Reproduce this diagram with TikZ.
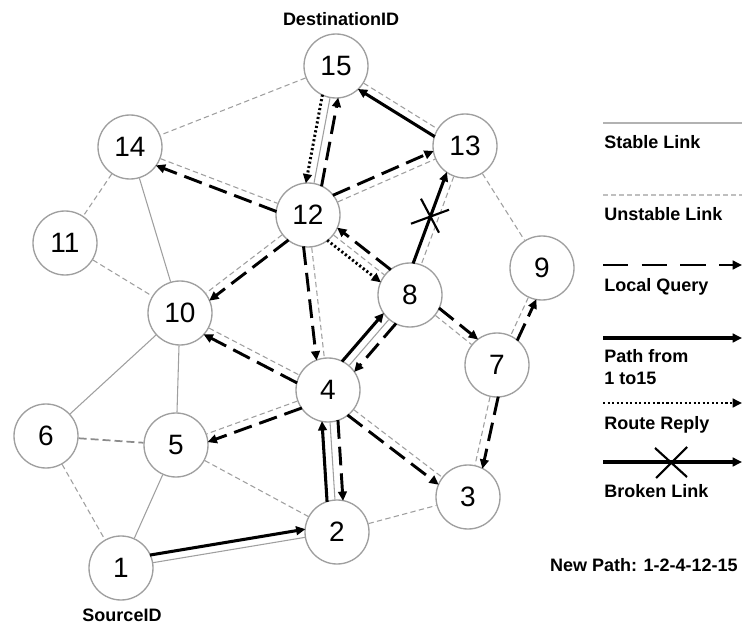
\documentclass[tikz,border=0pt]{standalone}
\usepackage{fontspec}
\setmainfont{Liberation Sans}
\usetikzlibrary{calc,arrows.meta}

% arrow drawn alongside a link, shifted sideways by #4 (positive = left of travel)
\newcommand\flow[4]{%
  \draw[#1,shorten <=23pt,shorten >=23pt]
    ($(#2)!#4!90:(#3)$) -- ($(#3)!#4!-90:(#2)$);}

\begin{document}
\begin{tikzpicture}[x=0.75pt,y=-0.75pt,
  peer/.style={circle,draw=gray!75,line width=1pt,minimum size=48pt,
    inner sep=0pt,fill=white,font=\fontsize{21}{23}\selectfont},
  stablelink/.style={draw=gray!75,line width=0.8pt},
  unstablelink/.style={draw=gray!75,line width=0.8pt,dash pattern=on 4pt off 2.5pt},
  tip/.style={-{Triangle[length=7pt,width=6.5pt]}},
  query/.style={tip,line width=2.2pt,dash pattern=on 14pt off 6pt},
  pathlink/.style={tip,line width=2.3pt},
  reply/.style={tip,line width=2.2pt,dash pattern=on 1.6pt off 1.8pt},
  crossmark/.style={line width=1.6pt},
  caption/.style={font=\bfseries\fontsize{13.5}{16}\selectfont},
  legendtext/.style={caption,anchor=west,align=left,inner sep=0pt},
]
\useasboundingbox (0,0) rectangle (742,627);

% ---- nodes ----
\node[peer] (n15) at (336,66)  {15};
\node[peer] (n14) at (130,147) {14};
\node[peer] (n13) at (465,146) {13};
\node[peer] (n12) at (308,215) {12};
\node[peer] (n11) at (65,243)  {11};
\node[peer] (n10) at (180,313) {10};
\node[peer] (n9)  at (542,268) {9};
\node[peer] (n8)  at (410,295) {8};
\node[peer] (n7)  at (497,365) {7};
\node[peer] (n4)  at (328,390) {4};
\node[peer] (n6)  at (46,436)  {6};
\node[peer] (n5)  at (176,445) {5};
\node[peer] (n3)  at (468,497) {3};
\node[peer] (n2)  at (337,532) {2};
\node[peer] (n1)  at (121,568) {1};

\node[caption] (dst) at (341,19)  {DestinationID};
\node[caption] (src) at (122,615) {SourceID};

% ---- stable links ----
\foreach \a/\b in {n15/n12, n14/n10, n10/n6, n10/n5, n5/n1, n1/n2, n2/n4, n4/n8}
  \draw[stablelink] (\a) -- (\b);

% ---- unstable links ----
\foreach \a/\b in {n15/n14, n15/n13, n14/n12, n14/n11, n11/n10, n12/n13, n12/n10,
  n12/n4, n12/n8, n13/n8, n13/n9, n10/n4, n8/n7, n9/n7, n7/n3, n4/n3, n4/n5,
  n6/n1, n5/n2, n2/n3}
  \draw[unstablelink] (\a) -- (\b);
\draw[unstablelink,draw=gray!90,line width=1.3pt,dash pattern=on 6pt off 3pt] (n6) -- (n5);

% ---- local queries ----
\flow{query}{n12}{n15}{-6pt}
\flow{query}{n12}{n13}{6pt}
\flow{query}{n12}{n14}{6pt}
\flow{query}{n12}{n10}{6pt}
\flow{query}{n12}{n4}{-6pt}
\flow{query}{n8}{n12}{-6pt}
\flow{query}{n4}{n10}{6pt}
\flow{query}{n8}{n4}{6pt}
\flow{query}{n8}{n7}{6pt}
\flow{query}{n7}{n9}{-6pt}
\flow{query}{n7}{n3}{6pt}
\flow{query}{n4}{n3}{-6pt}
\flow{query}{n4}{n5}{6pt}
\flow{query}{n4}{n2}{6pt}

% ---- route replies ----
\flow{reply}{n15}{n12}{-6pt}
\flow{reply}{n12}{n8}{-6pt}

% ---- path from 1 to 15 ----
\flow{pathlink}{n1}{n2}{6pt}
\flow{pathlink}{n2}{n4}{6pt}
\flow{pathlink}{n4}{n8}{6pt}
\flow{pathlink}{n8}{n13}{6pt}
\flow{pathlink}{n13}{n15}{6pt}

% broken link mark on 8 -> 13
\coordinate (brk) at ($($(n8)!0.5!(n13)$)!6pt!90:(n13)$);
\draw[crossmark] ($(brk)+(-19,6)$) -- ($(brk)+(19,-8)$);
\draw[crossmark] ($(brk)+(-9,-19)$) -- ($(brk)+(9,15)$);

% ---- legend ----
\coordinate (ls0) at (603,123); \coordinate (ls1) at (742,123);
\coordinate (lu0) at (603,195); \coordinate (lu1) at (742,195);
\coordinate (lq0) at (603,265); \coordinate (lq1) at (742,265);
\coordinate (lp0) at (603,338); \coordinate (lp1) at (742,338);
\coordinate (lr0) at (603,403); \coordinate (lr1) at (742,403);
\coordinate (lb0) at (603,462); \coordinate (lb1) at (742,462);
\coordinate (lx)  at (671,462);

\draw[draw=gray!60,line width=2pt] (ls0) -- (ls1);
\draw[draw=gray!50,line width=0.8pt,dash pattern=on 4pt off 2pt] (lu0) -- (lu1);
\draw[query,dash pattern=on 19pt off 10pt] (lq0) -- (lq1);
\draw[pathlink] (lp0) -- (lp1);
\draw[reply] (lr0) -- (lr1);
\draw[pathlink] (lb0) -- (lb1);
\draw[crossmark] ($(lx)+(-16,-14)$) -- ($(lx)+(16,15)$);
\draw[crossmark] ($(lx)+(-15,16)$) -- ($(lx)+(16,-15)$);

\node[legendtext] (t1) at (604,142) {Stable Link};
\node[legendtext] (t2) at (604,214) {Unstable Link};
\node[legendtext] (t3) at (604,287) {Local Query};
\node[legendtext] (t4) at (604,367) {Path from\\1 to15};
\node[legendtext] (t5) at (604,425) {Route Reply};
\node[legendtext] (t6) at (604,491) {Broken Link};
\node[caption,anchor=east,inner sep=0pt] (np) at (738,565) {New Path: 1-2-4-12-15};
\end{tikzpicture}
\end{document}
